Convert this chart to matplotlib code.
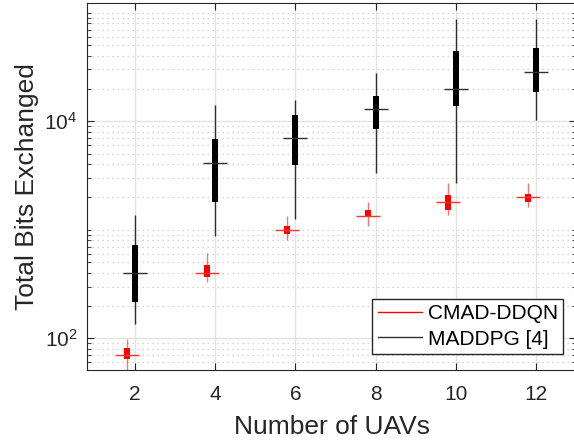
import numpy as np
import matplotlib.pyplot as plt
from matplotlib.lines import Line2D
from matplotlib.ticker import LogLocator, NullFormatter

plt.rcParams['font.family'] = ['Liberation Sans', 'DejaVu Sans']
plt.rcParams['mathtext.fontset'] = 'custom'
plt.rcParams['mathtext.rm'] = 'Liberation Sans'
plt.rcParams['mathtext.it'] = 'Liberation Sans:italic'
plt.rcParams['mathtext.bf'] = 'Liberation Sans:bold'

# number of UAVs
uavs = np.array([2, 4, 6, 8, 10, 12])

# CMAD-DDQN box stats (lower whisker, q1, median, q3, upper whisker)
cmad_wlo = [45, 327, 809, 1089, 1355, 1618]
cmad_q1 = [64, 364, 906, 1318, 1506, 1798]
cmad_med = [70, 402, 985, 1345, 1798, 2000]
cmad_q3 = [82, 469, 1089, 1528, 2099, 2143]
cmad_whi = [99, 611, 1345, 1798, 2690, 2690]

# MADDPG [4] box stats
mad_wlo = [134, 881, 1262, 3365, 2705, 10280]
mad_q1 = [218, 1798, 3990, 8490, 13930, 18500]
mad_med = [402, 4160, 7020, 13060, 19820, 28560]
mad_q3 = [717, 6825, 11350, 17220, 44360, 46970]
mad_whi = [1374, 14130, 15700, 27640, 87300, 87300]

fig = plt.figure(figsize=(5.74, 4.45), dpi=100)
ax = fig.add_axes([0.1516, 0.1685, 0.852, 0.824])
ax.set_yscale('log')

def draw_box(x, wlo, q1, med, q3, whi, color, walpha, mcolor):
    ax.vlines(x, wlo, whi, color=color, lw=1.0, alpha=walpha, zorder=3)
    ax.bar(x, np.array(q3) - np.array(q1), bottom=q1, width=0.15,
           color=color, edgecolor='none', zorder=4)
    ax.hlines(med, x - 0.3, x + 0.3, color=mcolor, lw=1.0, zorder=5)

draw_box(uavs - 0.2, cmad_wlo, cmad_q1, cmad_med, cmad_q3, cmad_whi,
         '#ff0000', 0.55, '#ff3030')
draw_box(uavs, mad_wlo, mad_q1, mad_med, mad_q3, mad_whi,
         '#000000', 0.8, '#303030')

ax.set_xlim(0.8, 13)
ax.set_ylim(51, 1.22e5)
ax.set_xticks(uavs)
ax.set_yticks([1e2, 1e4])
ax.set_yticklabels([r'$10^2$', r'$10^4$'])
ax.yaxis.set_minor_locator(LogLocator(base=10, subs=np.arange(1, 10), numticks=20))
ax.yaxis.set_minor_formatter(NullFormatter())

ax.grid(True, which='major', color='#e3e3e3', lw=1.0, zorder=0)
ax.grid(True, which='minor', axis='y', color='#c8c8c8', lw=0.9, ls=(0, (1, 3)), zorder=0)
ax.set_axisbelow(True)

ax.tick_params(which='both', direction='in', top=True, right=True,
               colors='#262626', labelsize=15)
ax.tick_params(which='major', length=5)
ax.tick_params(which='minor', length=3)
ax.tick_params(axis='x', pad=11)
ax.tick_params(axis='y', pad=7)
for s in ax.spines.values():
    s.set_color('#262626')

ax.set_xlabel('Number of UAVs', fontsize=19, color='#262626', labelpad=8)
ax.set_ylabel('Total Bits Exchanged', fontsize=19, color='#262626', labelpad=4)

handles = [Line2D([], [], color='#ff0000', lw=1.0),
           Line2D([], [], color='#333333', lw=1.0)]
leg = ax.legend(handles, ['CMAD-DDQN', 'MADDPG [4]'], loc='lower right',
                bbox_to_anchor=(0.973, 0.044), fontsize=15, fancybox=False,
                framealpha=1, edgecolor='#262626', handlelength=2.15,
                borderpad=0.25, labelspacing=0.33, handletextpad=0.25,
                borderaxespad=0)
leg.get_frame().set_linewidth(1.0)

fig.savefig('out.png', dpi=100)
